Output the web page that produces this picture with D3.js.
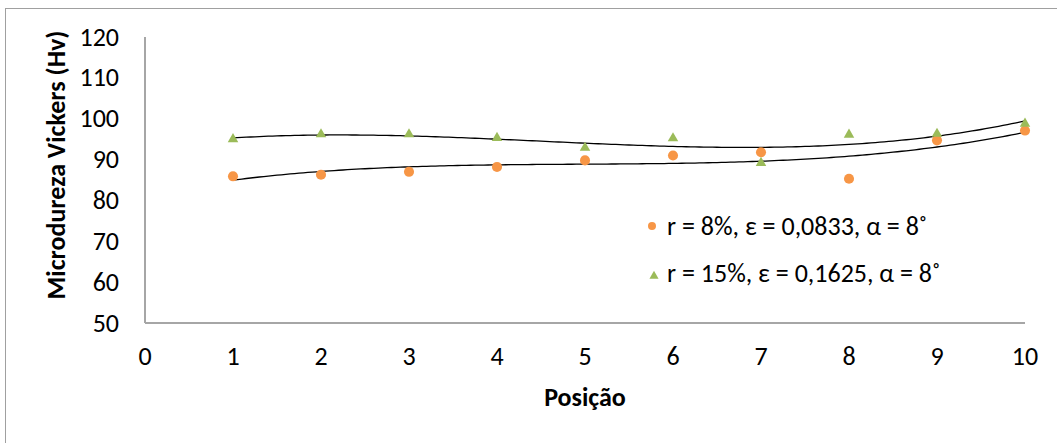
<!DOCTYPE html>
<html>
<head>
<meta charset="utf-8">
<script src="https://cdn.jsdelivr.net/npm/d3@7"></script>
<style>
  body { margin: 0; background: #fff; }
  svg text { font-family: Carlito, Lato, "Open Sans", sans-serif; fill: #000; }
</style>
</head>
<body>
<div id="chart"></div>
<script>
// positions along the sample
const positions = [1, 2, 3, 4, 5, 6, 7, 8, 9, 10];
// r = 8% series
const hv8 = [85.9, 86.3, 87.0, 88.2, 89.8, 91.0, 91.8, 85.3, 94.7, 97.1];
// r = 15% series
const hv15 = [95.0, 96.2, 96.2, 95.3, 92.9, 95.2, 89.2, 96.1, 96.3, 98.8];
const seriesNames = ['r = 8%, \u03b5 = 0,0833, \u03b1 = 8\u02da', 'r = 15%, \u03b5 = 0,1625, \u03b1 = 8\u02da'];
const seriesColors = ['#F79646', '#9BBB59'];
const xTicks = [0, 1, 2, 3, 4, 5, 6, 7, 8, 9, 10];
const yTicks = [50, 60, 70, 80, 90, 100, 110, 120];

const W = 1057, H = 443;
const FS = '26px';
const svg = d3.select('#chart').append('svg')
    .attr('width', W)
    .attr('height', H);

// chart area border (right/bottom edges run off the picture)
svg.append('rect')
    .attr('x', 5.5).attr('y', 8.5)
    .attr('width', W + 20).attr('height', H + 20)
    .attr('fill', 'none')
    .attr('stroke', '#a0a0a0')
    .attr('stroke-width', 1);

const x = d3.scaleLinear().domain([0, 10]).range([145, 1025]);
const y = d3.scaleLinear().domain([50, 120]).range([323, 37]);

// axes lines
svg.append('line')
    .attr('x1', x(0)).attr('x2', x(0))
    .attr('y1', y(120)).attr('y2', y(50))
    .attr('stroke', '#a6a6a6').attr('stroke-width', 2);
svg.append('line')
    .attr('x1', x(0)).attr('x2', x(10))
    .attr('y1', y(50)).attr('y2', y(50))
    .attr('stroke', '#a6a6a6').attr('stroke-width', 2);

// tick labels
svg.selectAll('.ytick')
    .data(yTicks)
    .enter().append('text')
    .attr('class', 'ytick')
    .attr('x', 119)
    .attr('y', d => y(d))
    .attr('dy', '0.33em')
    .attr('text-anchor', 'end')
    .style('font-size', FS)
    .text(d => d);

svg.selectAll('.xtick')
    .data(xTicks)
    .enter().append('text')
    .attr('class', 'xtick')
    .attr('x', d => x(d))
    .attr('y', 365)
    .attr('text-anchor', 'middle')
    .style('font-size', FS)
    .text(d => d);

// axis titles
svg.append('text')
    .attr('x', 585).attr('y', 406)
    .attr('text-anchor', 'middle')
    .style('font-size', FS)
    .style('font-weight', 'bold')
    .text('Posição');

svg.append('text')
    .attr('transform', 'translate(65,165) rotate(-90)')
    .attr('text-anchor', 'middle')
    .style('font-size', FS)
    .style('font-weight', 'bold')
    .text('Microdureza Vickers (Hv)');

// cubic least-squares trendline (like a spreadsheet polynomial trendline)
function polyFit(xs, ys, order) {
    const n = order + 1;
    const A = [];
    for (let i = 0; i < n; i++) {
        A.push(new Array(n + 1).fill(0));
        for (let j = 0; j < n; j++) {
            A[i][j] = d3.sum(xs, v => Math.pow(v, i + j));
        }
        A[i][n] = d3.sum(xs, (v, k) => ys[k] * Math.pow(v, i));
    }
    for (let c = 0; c < n; c++) {
        let p = c;
        for (let r = c + 1; r < n; r++) if (Math.abs(A[r][c]) > Math.abs(A[p][c])) p = r;
        [A[c], A[p]] = [A[p], A[c]];
        for (let r = 0; r < n; r++) {
            if (r === c) continue;
            const f = A[r][c] / A[c][c];
            for (let k = c; k <= n; k++) A[r][k] -= f * A[c][k];
        }
    }
    const coef = A.map((row, i) => row[n] / row[i]);
    return t => coef.reduce((s, cf, i) => s + cf * Math.pow(t, i), 0);
}

const line = d3.line()
    .x(d => x(d[0]))
    .y(d => y(d[1]));

[hv8, hv15].forEach(vals => {
    const f = polyFit(positions, vals, 3);
    const pts = d3.range(1, 10.001, 0.05).map(t => [t, f(t)]);
    svg.append('path')
        .datum(pts)
        .attr('d', line)
        .attr('fill', 'none')
        .attr('stroke', '#000')
        .attr('stroke-width', 1.3);
});

// markers
const circleSym = d3.symbol().type(d3.symbolCircle).size(80);
const triSym = d3.symbol().type(d3.symbolTriangle).size(48);

svg.selectAll('.p8')
    .data(positions)
    .enter().append('path')
    .attr('class', 'p8')
    .attr('transform', (d, i) => `translate(${x(d)},${y(hv8[i])})`)
    .attr('d', circleSym)
    .attr('fill', seriesColors[0]);

svg.selectAll('.p15')
    .data(positions)
    .enter().append('path')
    .attr('class', 'p15')
    .attr('transform', (d, i) => `translate(${x(d)},${y(hv15[i])})`)
    .attr('d', triSym)
    .attr('fill', seriesColors[1]);

// legend
const legend = svg.append('g');
const legY = [226, 273];
legend.append('path')
    .attr('transform', `translate(652,${legY[0]})`)
    .attr('d', d3.symbol().type(d3.symbolCircle).size(50))
    .attr('fill', seriesColors[0]);
legend.append('path')
    .attr('transform', `translate(654,${legY[1] + 3})`)
    .attr('d', d3.symbol().type(d3.symbolTriangle).size(36))
    .attr('fill', seriesColors[1]);
legend.selectAll('text')
    .data(seriesNames)
    .enter().append('text')
    .attr('x', 667)
    .attr('y', (d, i) => legY[i])
    .attr('dy', '0.33em')
    .style('font-size', FS)
    .text(d => d);
</script>
</body>
</html>
